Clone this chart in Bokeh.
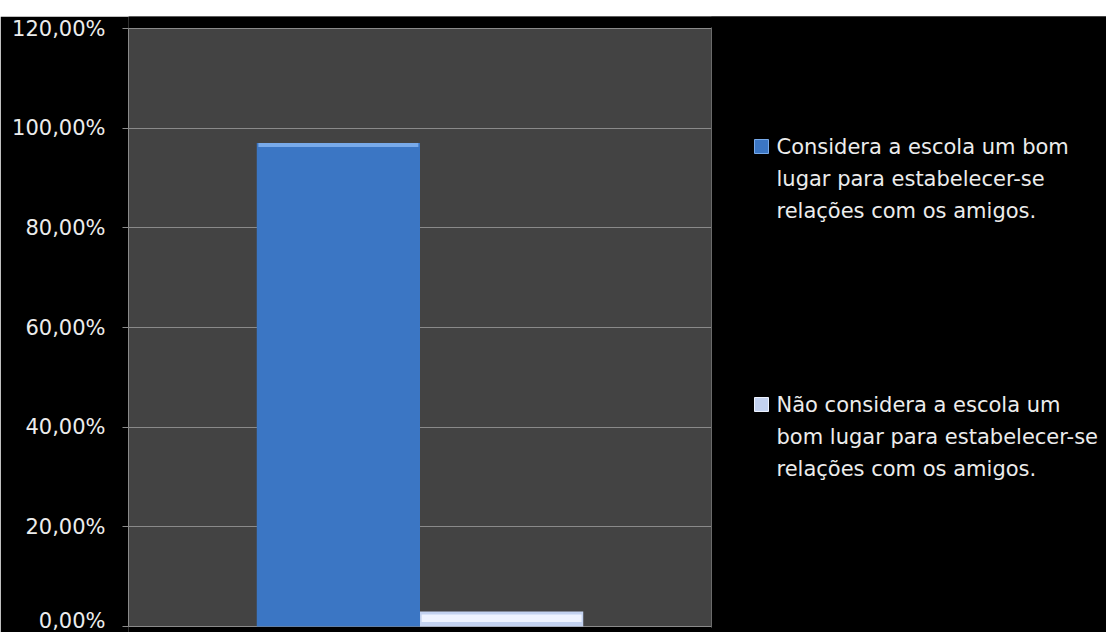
from bokeh.plotting import figure
from bokeh.models import Range1d, FixedTicker, Spacer, ColumnDataSource, BoxAnnotation, Span
from bokeh.layouts import column
from bokeh.core.properties import value
from bokeh.embed import file_html
from bokeh.resources import INLINE

# ---- data ----
series_names = [
    "Considera a escola um bom lugar para estabelecer-se relações com os amigos.",
    "Não considera a escola um bom lugar para estabelecer-se relações com os amigos.",
]
series_values = [0.97, 0.03]
legend_lines = [
    ["Considera a escola um bom", "lugar para estabelecer-se", "relações com os amigos."],
    ["Não considera a escola um", "bom lugar para estabelecer-se", "relações com os amigos."],
]
y_ticks = [0.0, 0.2, 0.4, 0.6, 0.8, 1.0, 1.2]
y_tick_labels = ["0,00%", "20,00%", "40,00%", "60,00%", "80,00%", "100,00%", "120,00%"]

# ---- layout / styles ----
FONT = "DejaVu Sans"
bar_colors = ["#3b76c4", "#c3d2f0"]
bar_highlights = ["#78aaea", "#eef3ff"]
bar_width = 0.28

TOP_GAP = 16
W = 1106
H = 632 - TOP_GAP
FRAME_L = 128                  # page pixels
Y_TOP_PX, Y_ZERO_PX = 28, 626  # page pixels of 120% and 0% lines
PLOT_AREA_W = 583              # gray plot area width (px)
Y_MAX = 1.2
PX_PER_UNIT = (Y_ZERO_PX - Y_TOP_PX) / Y_MAX
Y_START = -(632 - Y_ZERO_PX) / PX_PER_UNIT
Y_END = (Y_ZERO_PX - TOP_GAP) / PX_PER_UNIT

frame_w = W - FRAME_L
x_end = frame_w / PLOT_AREA_W  # plot area spans x in [0, 1]


def px_x(gx):
    return (gx - FRAME_L) / PLOT_AREA_W


def px_y(gy):
    return (Y_ZERO_PX - gy) / PX_PER_UNIT


p = figure(width=W, height=H, x_range=Range1d(0, x_end), y_range=Range1d(Y_START, Y_END),
           output_backend="svg", toolbar_location=None, title=None,
           min_border_left=FRAME_L, min_border_right=0,
           min_border_top=0, min_border_bottom=0)
p.background_fill_color = "#000000"
p.border_fill_color = "#000000"
p.outline_line_color = None

# gray plot area, drawn below the grid
p.add_layout(BoxAnnotation(left=0, right=1.0, bottom=0, top=Y_MAX, fill_color="#434343",
                           fill_alpha=1.0, line_color=None, level="image"))

n = len(series_values)
for i, v in enumerate(series_values):
    xc = 0.5 + (i - (n - 1) / 2) * bar_width
    src = ColumnDataSource(dict(x=[xc], top=[v]))
    p.vbar(x="x", top="top", bottom=0, width=bar_width, source=src,
           fill_color=bar_colors[i], line_color=None)
    if i == 0:
        hsrc = ColumnDataSource(dict(x=[xc], top=[v], bottom=[v - 0.008]))
    else:
        hsrc = ColumnDataSource(dict(x=[xc], top=[v * 0.8], bottom=[v * 0.3]))
    p.vbar(x="x", top="top", bottom="bottom", width=bar_width * 0.98, source=hsrc,
           fill_color=bar_highlights[i], line_color=None)

p.xaxis.visible = False
p.xgrid.visible = False
p.ygrid.grid_line_color = "#8a8a8a"
p.ygrid.grid_line_width = 1
p.yaxis.ticker = FixedTicker(ticks=y_ticks)
p.yaxis.bounds = (0, Y_MAX)
p.yaxis.major_label_overrides = {t: l for t, l in zip(y_ticks, y_tick_labels)}
p.yaxis.minor_tick_line_color = None
p.yaxis.major_tick_in = 0
p.yaxis.major_tick_out = 6
p.yaxis.major_tick_line_color = "#8a8a8a"
p.yaxis.axis_line_color = "#8a8a8a"
p.yaxis.major_label_standoff = 17
p.yaxis.major_label_text_font = FONT
p.yaxis.major_label_text_font_size = "21px"
p.yaxis.major_label_text_color = "#ececec"

# hide gridlines in the legend zone, draw the plot area's right border
p.add_layout(BoxAnnotation(left=1.0, fill_color="#000000", fill_alpha=1.0, line_color=None))
p.add_layout(Span(location=1.0, dimension="height", line_color="#6a6a6a", line_width=1))
p.add_layout(BoxAnnotation(bottom=Y_MAX + 0.002, fill_color="#000000", fill_alpha=1.0,
                           line_color=None))
p.add_layout(BoxAnnotation(top=-0.002, fill_color="#000000", fill_alpha=1.0,
                           line_color=None))

# ---- legend ----
item_centers = [146, 404]
line_step = 32
for i, lines in enumerate(legend_lines):
    r = p.scatter(x=[px_x(761)], y=[px_y(item_centers[i])], marker="square", size=14,
                  fill_color=bar_colors[i], line_color=bar_highlights[i], line_width=1)
    r.level = "overlay"
    ys = [px_y(item_centers[i] + k * line_step) for k in range(len(lines))]
    t = p.text(x=[px_x(776)] * len(lines), y=ys, text=lines, text_font=value(FONT),
               text_font_size=value("21px"), text_color="#ececec",
               text_baseline="middle", text_align="left")
    t.level = "overlay"

layout = column(Spacer(width=W, height=TOP_GAP), p)
open("out.html", "w").write(file_html(layout, INLINE))
